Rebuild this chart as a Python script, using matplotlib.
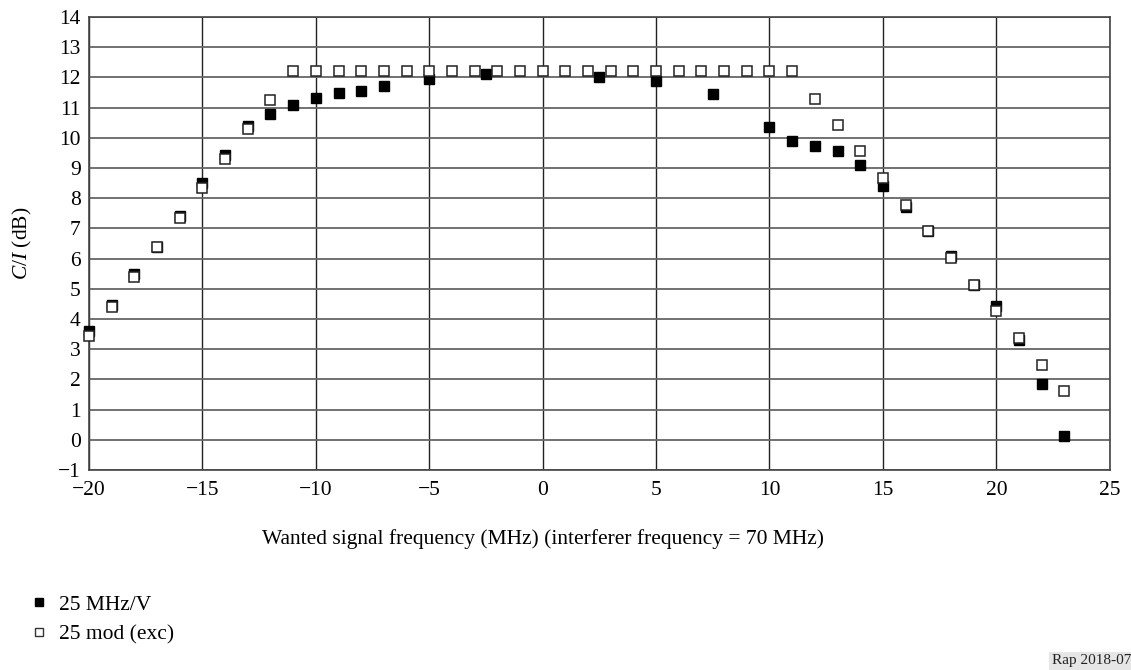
import matplotlib.pyplot as plt
from matplotlib.lines import Line2D

# 25 MHz/V (filled squares)
mhz_x = [-20, -19, -18, -17, -16, -15, -14, -13, -12, -11, -10, -9, -8, -7,
         -5, -2.5, 2.5, 5, 7.5, 10, 11, 12, 13, 14, 15, 16, 17, 18, 19, 20, 21, 22, 23]
mhz_y = [3.6, 4.45, 5.5, 6.38, 7.42, 8.5, 9.42, 10.38, 10.8, 11.08, 11.32, 11.5, 11.56, 11.72,
         11.95, 12.12, 12.02, 11.87, 11.46, 10.37, 9.9, 9.72, 9.57, 9.1, 8.42, 7.7, 6.9, 6.1, 5.13,
         4.42, 3.3, 1.86, 0.11]

# 25 mod (exc) (open squares)
mod_x = list(range(-20, 24))
mod_y = [3.45, 4.4, 5.38, 6.38, 7.35, 8.33, 9.3, 10.28, 11.25,
         12.2, 12.2, 12.2, 12.2, 12.2, 12.2, 12.2, 12.2, 12.2, 12.2, 12.2, 12.2,
         12.2, 12.2, 12.2, 12.2, 12.2, 12.2, 12.2, 12.2, 12.2, 12.2, 12.2,
         11.28, 10.42, 9.55, 8.66, 7.76, 6.9, 6.02, 5.13, 4.25, 3.37, 2.48, 1.61]

x_ticks = list(range(-20, 30, 5))
y_ticks = list(range(-1, 15))

plt.rcParams['font.family'] = ['Liberation Serif', 'DejaVu Serif']
plt.rcParams['mathtext.fontset'] = 'custom'
plt.rcParams['mathtext.it'] = 'Liberation Serif:italic'
plt.rcParams['mathtext.rm'] = 'Liberation Serif'

fs = 15.5

fig = plt.figure(figsize=(11.31, 6.70), dpi=100)
ax = fig.add_axes([0.0787, 0.2985, 0.9025, 0.676])

ax.plot(mhz_x, mhz_y, linestyle='none', marker='s', markersize=7.5,
        markerfacecolor='black', markeredgecolor='black', markeredgewidth=1, clip_on=False, zorder=3)
ax.plot(mod_x, mod_y, linestyle='none', marker='s', markersize=7.5,
        markerfacecolor='white', markeredgecolor='#222222', markeredgewidth=1.1, clip_on=False, zorder=4)

ax.set_xlim(-20, 25)
ax.set_ylim(-1, 14)
ax.set_xticks(x_ticks)
ax.set_yticks(y_ticks)
ax.set_xticklabels([f"{t}".replace('-', '\u2212') for t in x_ticks])
ax.set_yticklabels([f"{t}".replace('-', '\u2212') for t in y_ticks])
ax.tick_params(length=0, labelsize=fs, colors='black')
ax.tick_params(axis='x', pad=8)
ax.tick_params(axis='y', pad=6)

ax.grid(True, axis='y', color='#666666', linewidth=1.3)
ax.grid(True, axis='x', color='#222222', linewidth=1.0)
ax.set_axisbelow(True)
for s in ax.spines.values():
    s.set_color('#444444')
    s.set_linewidth(1.2)

# x label is centred on 0 MHz, not on the axes
ax.set_xlabel("Wanted signal frequency (MHz) (interferer frequency = 70 MHz)", fontsize=fs)
ax.xaxis.set_label_coords(20 / 45, -0.13)
ax.set_ylabel(r"$\mathit{C/I}$ (dB)", fontsize=fs, labelpad=17)

# legend below the chart
fig.legend(handles=[
    Line2D([], [], linestyle='none', marker='s', markersize=6, markerfacecolor='black', markeredgecolor='black'),
    Line2D([], [], linestyle='none', marker='s', markersize=6, markerfacecolor='white', markeredgecolor='#333333'),
], labels=["25 MHz/V", "25 mod (exc)"], loc='upper left', bbox_to_anchor=(0.012, 0.141),
    frameon=False, fontsize=fs, handlelength=0.6, handletextpad=0.6, labelspacing=0.45)

fig.text(0.93, 0.004, "Rap 2018-07", fontsize=11, va='bottom', ha='left', color='#222222',
         bbox=dict(facecolor='#e6e6e6', edgecolor='none', pad=2))

plt.savefig("out.png", dpi=100)
